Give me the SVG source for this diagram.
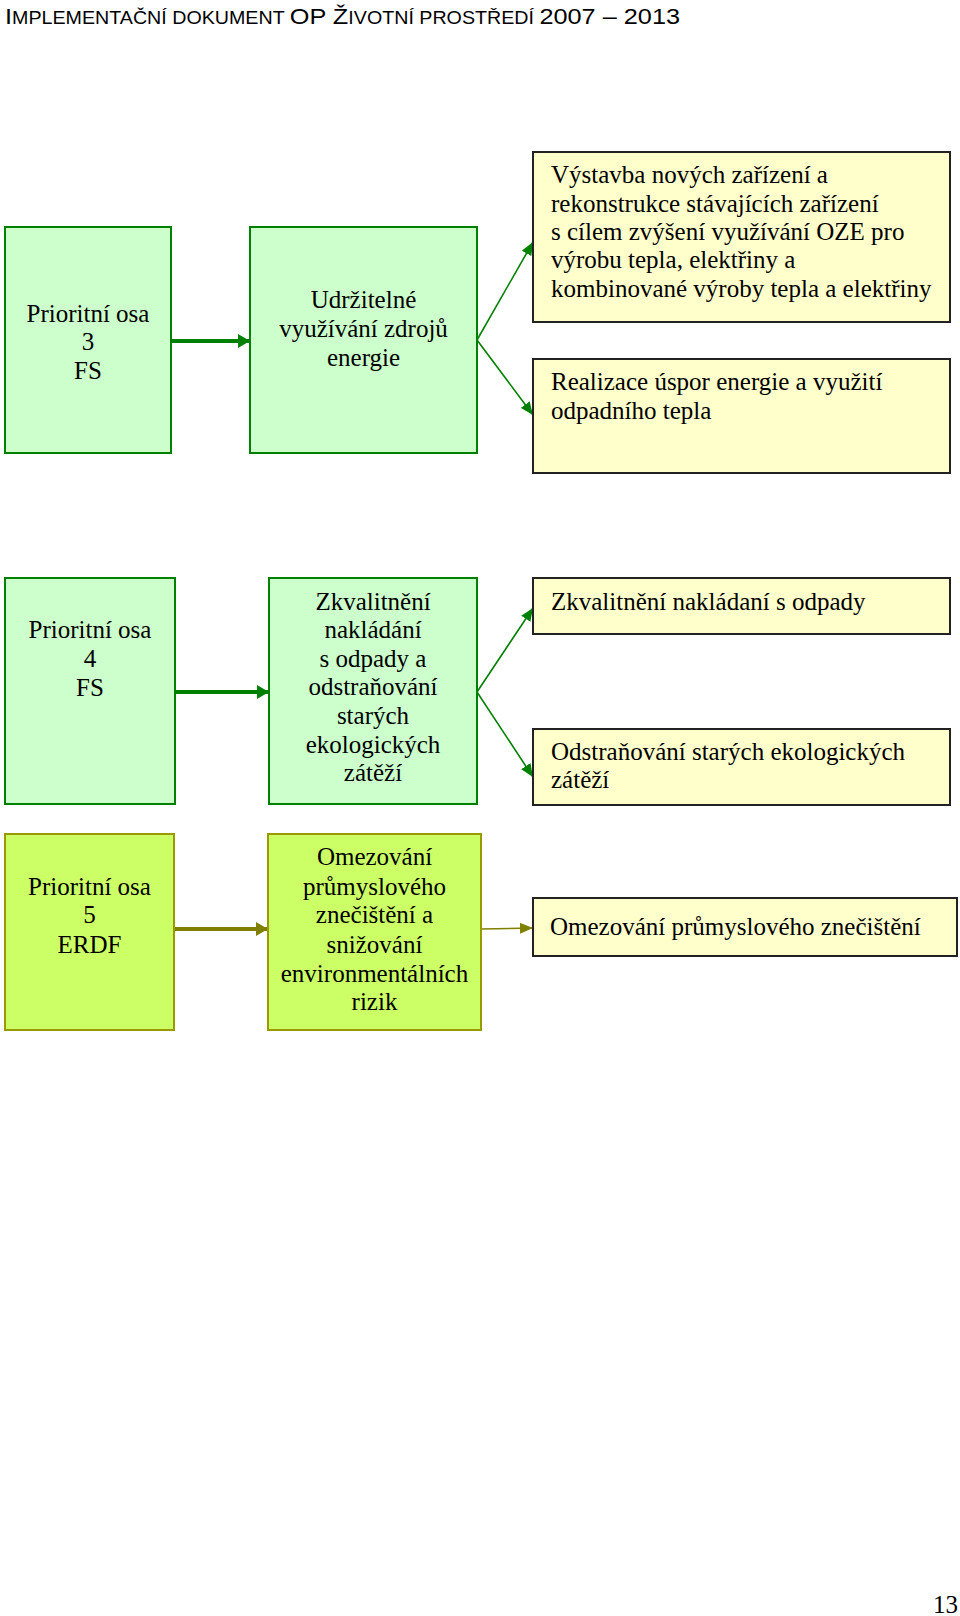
<svg xmlns="http://www.w3.org/2000/svg" width="960" height="1616" viewBox="0 0 960 1616">
<style>
  .t { font-family: "Liberation Serif", "Times New Roman", serif; font-size: 25px; fill: #000; }
  .c { text-anchor: middle; }
  .g { fill: #ccffcc; stroke: #008000; stroke-width: 2; }
  .y { fill: #ffffcc; stroke: #222; stroke-width: 2; }
  .o { fill: #ccff66; stroke: #999900; stroke-width: 2; }
  .h { font-family: "Liberation Sans", Arial, sans-serif; fill: #000; }
</style>
<defs>
  <marker id="ag" markerUnits="userSpaceOnUse" markerWidth="12" markerHeight="14" refX="12" refY="7" orient="auto">
    <path d="M0,0 L12,7 L0,14 Z" fill="#008000"/>
  </marker>
  <marker id="agt" markerUnits="userSpaceOnUse" markerWidth="13" markerHeight="11" refX="13" refY="5.5" orient="auto">
    <path d="M0,0 L13,5.5 L0,11 Z" fill="#008000"/>
  </marker>
  <marker id="ao" markerUnits="userSpaceOnUse" markerWidth="12" markerHeight="14" refX="12" refY="7" orient="auto">
    <path d="M0,0 L12,7 L0,14 Z" fill="#808000"/>
  </marker>
  <marker id="aot" markerUnits="userSpaceOnUse" markerWidth="13" markerHeight="11" refX="13" refY="5.5" orient="auto">
    <path d="M0,0 L13,5.5 L0,11 Z" fill="#808000"/>
  </marker>
</defs>
<rect width="960" height="1616" fill="#fff"/>

<g id="header">
  <text class="h" x="5" y="24" textLength="675" lengthAdjust="spacingAndGlyphs"><tspan font-size="22.5">I</tspan><tspan font-size="17.5">MPLEMENTAČNÍ DOKUMENT </tspan><tspan font-size="22.5">OP Ž</tspan><tspan font-size="17.5">IVOTNÍ PROSTŘEDÍ </tspan><tspan font-size="22.5">2007 – 2013</tspan></text>
</g>

<g id="connectors">
  <line x1="171" y1="341" x2="250" y2="341" stroke="#008000" stroke-width="4" marker-end="url(#ag)"/>
  <line x1="477" y1="340" x2="533" y2="242" stroke="#008000" stroke-width="1.6" marker-end="url(#agt)"/>
  <line x1="477" y1="340" x2="533" y2="415" stroke="#008000" stroke-width="1.6" marker-end="url(#agt)"/>
  <line x1="175" y1="692" x2="269" y2="692" stroke="#008000" stroke-width="4" marker-end="url(#ag)"/>
  <line x1="477" y1="692" x2="533" y2="608" stroke="#008000" stroke-width="1.6" marker-end="url(#agt)"/>
  <line x1="477" y1="692" x2="533" y2="777" stroke="#008000" stroke-width="1.6" marker-end="url(#agt)"/>
  <line x1="174" y1="929" x2="268" y2="929" stroke="#808000" stroke-width="4" marker-end="url(#ao)"/>
  <line x1="481" y1="929" x2="533" y2="928" stroke="#808000" stroke-width="1.6" marker-end="url(#aot)"/>
</g>

<g id="po3">
  <rect class="g" x="5" y="227" width="166" height="226"/>
  <text class="t c" x="88" y="322">Prioritní osa</text>
  <text class="t c" x="88" y="350">3</text>
  <text class="t c" x="88" y="379">FS</text>
</g>
<g id="udrzitelne">
  <rect class="g" x="250" y="227" width="227" height="226"/>
  <text class="t c" x="363.5" y="308">Udržitelné</text>
  <text class="t c" x="363.5" y="337">využívání zdrojů</text>
  <text class="t c" x="363.5" y="366">energie</text>
</g>
<g id="vystavba">
  <rect class="y" x="533" y="152" width="417" height="170"/>
  <text class="t" x="551" y="183">Výstavba nových zařízení a</text>
  <text class="t" x="551" y="212">rekonstrukce stávajících zařízení</text>
  <text class="t" x="551" y="240">s cílem zvýšení využívání OZE pro</text>
  <text class="t" x="551" y="268">výrobu tepla, elektřiny a</text>
  <text class="t" x="551" y="297">kombinované výroby tepla a elektřiny</text>
</g>
<g id="realizace">
  <rect class="y" x="533" y="359" width="417" height="114"/>
  <text class="t" x="551" y="390">Realizace úspor energie a využití</text>
  <text class="t" x="551" y="419">odpadního tepla</text>
</g>

<g id="po4">
  <rect class="g" x="5" y="578" width="170" height="226"/>
  <text class="t c" x="90" y="638">Prioritní osa</text>
  <text class="t c" x="90" y="667">4</text>
  <text class="t c" x="90" y="696">FS</text>
</g>
<g id="zkvalitneni">
  <rect class="g" x="269" y="578" width="208" height="226"/>
  <text class="t c" x="373" y="610">Zkvalitnění</text>
  <text class="t c" x="373" y="638">nakládání</text>
  <text class="t c" x="373" y="667">s odpady a</text>
  <text class="t c" x="373" y="695">odstraňování</text>
  <text class="t c" x="373" y="724">starých</text>
  <text class="t c" x="373" y="753">ekologických</text>
  <text class="t c" x="373" y="781">zátěží</text>
</g>
<g id="odpady">
  <rect class="y" x="533" y="578" width="417" height="56"/>
  <text class="t" x="551" y="610">Zkvalitnění nakládaní s odpady</text>
</g>
<g id="odstranovani">
  <rect class="y" x="533" y="729" width="417" height="76"/>
  <text class="t" x="551" y="760">Odstraňování starých ekologických</text>
  <text class="t" x="551" y="788">zátěží</text>
</g>

<g id="po5">
  <rect class="o" x="5" y="834" width="169" height="196"/>
  <text class="t c" x="89.5" y="895">Prioritní osa</text>
  <text class="t c" x="89.5" y="923">5</text>
  <text class="t c" x="89.5" y="953">ERDF</text>
</g>
<g id="omezovani">
  <rect class="o" x="268" y="834" width="213" height="196"/>
  <text class="t c" x="374.5" y="865">Omezování</text>
  <text class="t c" x="374.5" y="895">průmyslového</text>
  <text class="t c" x="374.5" y="923">znečištění a</text>
  <text class="t c" x="374.5" y="953">snižování</text>
  <text class="t c" x="374.5" y="982">environmentálních</text>
  <text class="t c" x="374.5" y="1010">rizik</text>
</g>
<g id="prumysl">
  <rect class="y" x="533" y="898" width="424" height="58"/>
  <text class="t" x="550" y="935">Omezování průmyslového znečištění</text>
</g>

<g id="footer">
  <text class="t" x="933" y="1613" font-size="22">13</text>
</g>
</svg>
